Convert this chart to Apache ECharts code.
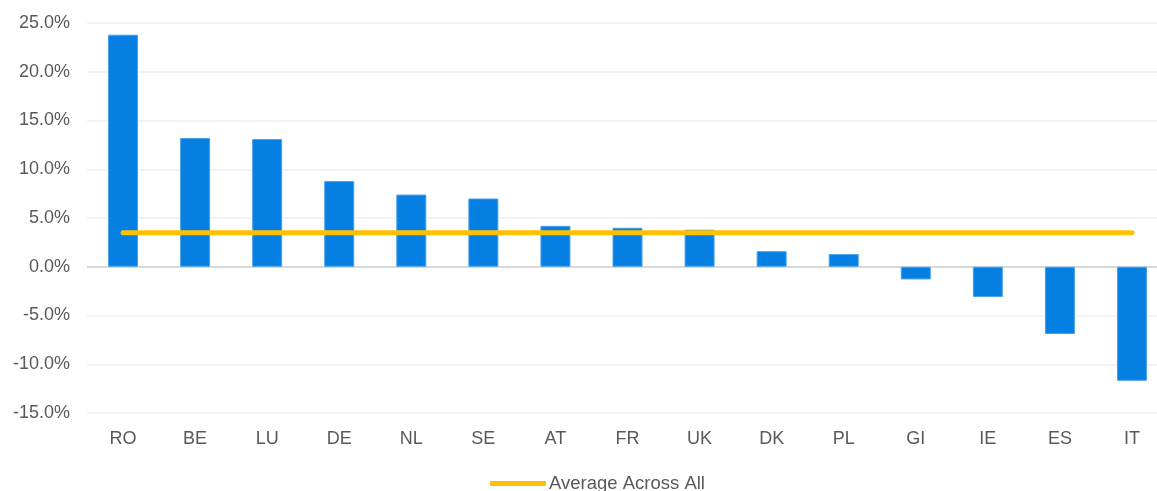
<!DOCTYPE html>
<html>
<head>
<meta charset="utf-8">
<script src="https://cdn.jsdelivr.net/npm/echarts@6/dist/echarts.min.js"></script>
<style>
  html, body { margin: 0; padding: 0; background: #fff; overflow: hidden; }
  #main { width: 1168px; height: 491px; }
</style>
</head>
<body>
<div id="main"></div>
<script>
var myChart = echarts.init(document.getElementById('main'));

var countries = ['RO', 'BE', 'LU', 'DE', 'NL', 'SE', 'AT', 'FR', 'UK', 'DK', 'PL', 'GI', 'IE', 'ES', 'IT'];
var changeValues = [23.8, 13.2, 13.1, 8.8, 7.4, 7.0, 4.2, 4.0, 3.8, 1.6, 1.3, -1.3, -3.1, -6.9, -11.7];
var averageValue = 3.5;
var averageLine = countries.map(function () { return averageValue; });

var labelFont = 'Liberation Sans, Arial, sans-serif';

option = {
    backgroundColor: '#ffffff',
    animation: false,
    grid: {
        left: 87,
        right: 0,
        top: 23,
        bottom: 78,
        containLabel: false
    },
    legend: {
        top: 469,
        left: 485,
        data: ['Average Across All'],
        itemWidth: 56,
        itemHeight: 5,
        itemGap: 10,
        icon: 'roundRect',
        textStyle: {
            color: '#595959',
            fontSize: 18.5,
            fontFamily: labelFont,
            padding: [0, 0, 0, -2]
        }
    },
    xAxis: {
        type: 'category',
        data: countries,
        axisLine: { show: false },
        axisTick: { show: false },
        axisLabel: {
            color: '#595959',
            fontSize: 18,
            fontFamily: labelFont,
            margin: 17
        }
    },
    yAxis: {
        type: 'value',
        min: -15,
        max: 25,
        interval: 5,
        axisLine: { show: false },
        axisTick: { show: false },
        axisLabel: {
            color: '#595959',
            fontSize: 18,
            fontFamily: labelFont,
            margin: 17,
            formatter: function (v) { return v.toFixed(1) + '%'; }
        },
        splitLine: {
            lineStyle: { color: '#efefef', width: 1.5 }
        }
    },
    series: [{
        name: 'Change',
        type: 'bar',
        data: changeValues,
        barWidth: 30,
        itemStyle: {
            color: '#0580e2',
            borderColor: '#4aa0ea',
            borderWidth: 1
        },
        markLine: {
            silent: true,
            symbol: 'none',
            label: { show: false },
            lineStyle: { color: '#d9d9d9', width: 2, type: 'solid' },
            data: [{ yAxis: 0 }],
            z: 1
        }
    }, {
        name: 'Average Across All',
        type: 'line',
        data: averageLine,
        symbol: 'none',
        lineStyle: {
            color: '#ffc000',
            width: 5,
            cap: 'round'
        },
        itemStyle: { color: '#ffc000' },
        z: 5
    }]
};

myChart.setOption(option);
</script>
</body>
</html>
